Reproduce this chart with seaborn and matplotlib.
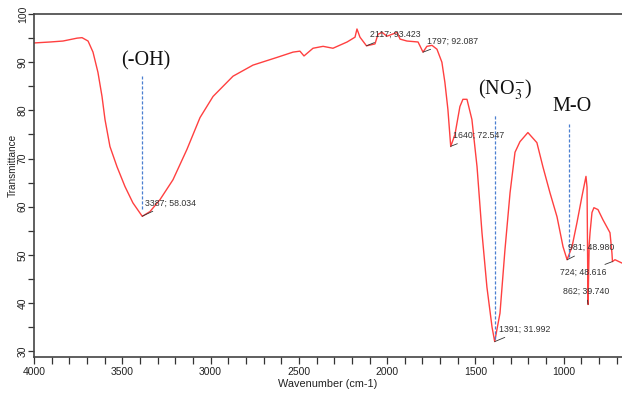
import numpy as np
import pandas as pd
import matplotlib
matplotlib.use("Agg")
import matplotlib.pyplot as plt
import seaborn as sns

# FTIR spectrum (wavenumber cm-1, transmittance %)
wavenumber = [4000, 3909, 3836, 3756, 3728, 3694, 3666, 3638, 3615, 3598, 3570, 3530,
              3485, 3440, 3387, 3343, 3286, 3213, 3134, 3060, 2986, 2873, 2760, 2624,
              2533, 2494, 2471, 2420, 2363, 2307, 2227, 2182, 2171, 2154, 2117, 2069,
              2052, 2029, 2001, 1944, 1927, 1888, 1825, 1797, 1775, 1746, 1718, 1690,
              1673, 1656, 1640, 1616, 1588, 1571, 1548, 1520, 1491, 1463, 1435, 1406,
              1391, 1361, 1333, 1304, 1276, 1248, 1203, 1152, 1118, 1078, 1038, 1004,
              981, 953, 925, 897, 874, 868, 864, 862, 860, 856, 851, 840, 829, 806,
              778, 738, 727, 724, 710, 670]
transmittance = [94.0, 94.2, 94.4, 95.0, 95.1, 94.4, 92.1, 87.9, 82.9, 78.1, 72.5, 68.3,
                 64.2, 60.8, 58.0, 59.0, 61.5, 65.6, 71.9, 78.5, 82.9, 87.1, 89.4, 91.0,
                 92.1, 92.3, 91.3, 92.9, 93.3, 92.9, 94.2, 95.2, 96.9, 95.2, 93.4, 93.8,
                 95.8, 96.2, 95.4, 96.2, 94.8, 94.4, 94.2, 92.1, 93.3, 93.5, 92.7, 90.0,
                 85.8, 80.2, 72.5, 75.0, 80.8, 82.3, 82.3, 78.1, 68.3, 54.6, 43.3, 35.0,
                 32.0, 37.9, 51.0, 62.9, 71.3, 73.5, 75.4, 73.3, 68.3, 62.9, 57.9, 51.7,
                 49.0, 51.7, 56.7, 62.1, 66.3, 64.0, 46.0, 39.7, 44.0, 52.0, 54.6, 58.8,
                 59.8, 59.4, 57.3, 54.6, 50.4, 48.6, 49.0, 48.3]

# peak labels: (wavenumber, transmittance) of peak and where its text goes
peak_wn = [3387, 2117, 1797, 1640, 1391, 981, 724, 862]
peak_tr = [58.034, 93.423, 92.087, 72.547, 31.992, 48.980, 48.616, 39.740]
label_wn = [3371, 2097, 1775, 1627, 1367, 976, 1021, 1004]
label_tr = [60.8, 95.8, 94.4, 74.8, 34.6, 51.5, 46.3, 42.5]

# group assignments: text, dashed line position and span
group_text = ["(-OH)", "(NO$_3^{-}$)", "M-O"]
group_wn = [3387, 1391, 968]
group_text_wn = [3370, 1330, 955]
group_text_tr = [90.2, 84.2, 80.8]
group_line_top = [87.1, 79.2, 77.1]
group_line_bottom = [59.5, 32.5, 49.5]

sns.set_style("ticks")
plt.rcParams["font.family"] = ["Liberation Sans", "DejaVu Sans"]
plt.rcParams["mathtext.fontset"] = "stix"

df = pd.DataFrame({"wn": wavenumber, "tr": transmittance})

fig = plt.figure(figsize=(6.22, 3.96), dpi=100)
ax = fig.add_axes([0.0547, 0.0985, 0.9453, 0.866])

sns.lineplot(data=df, x="wn", y="tr", ax=ax, color="#ff4040", lw=1.0,
             estimator=None, sort=False)

for i in range(len(group_text)):
    ax.plot([group_wn[i], group_wn[i]], [group_line_bottom[i], group_line_top[i]],
            ls=(0, (2.5, 1.5)), color="#4a7fd0", lw=0.9)
    ax.text(group_text_wn[i], group_text_tr[i], group_text[i], ha="center", va="center",
            fontsize=14.5, family="Liberation Serif", color="#111111")

for i in range(len(peak_wn)):
    ax.annotate(f"{peak_wn[i]}; {peak_tr[i]:.3f}", xy=(peak_wn[i], peak_tr[i]),
                xytext=(label_wn[i], label_tr[i]), fontsize=6.3, color="#333333",
                ha="left", va="center",
                arrowprops=dict(arrowstyle="-", color="#333333", lw=0.6,
                                shrinkA=1, shrinkB=0))

ax.set_xlim(4000, 670)
ax.set_ylim(28.8, 100)
ax.set_xticks([4000, 3500, 3000, 2500, 2000, 1500, 1000])
ax.set_xticks(np.arange(700, 4000, 100), minor=True)
ax.set_yticks([30, 40, 50, 60, 70, 80, 90, 100])
ax.set_yticks(np.arange(35, 100, 10), minor=True)
ax.tick_params(axis="both", which="both", direction="out", length=5, width=0.9,
               color="#333333", labelsize=7.5, labelcolor="#222222", pad=2)
ax.tick_params(axis="y", which="both", length=4.5, pad=0, labelrotation=90)
for lab in ax.get_yticklabels():
    lab.set_va("center")

for s in ["left", "bottom", "top"]:
    ax.spines[s].set_color("#444444")
    ax.spines[s].set_linewidth(1.2)
ax.spines["right"].set_visible(False)

ax.set_xlabel("Wavenumber (cm-1)", fontsize=7.8, color="#222222", labelpad=2)
ax.set_ylabel("Transmittance", fontsize=7.2, color="#222222")
ax.yaxis.set_label_coords(-0.027, 0.56)

fig.savefig("out.png", dpi=100)
